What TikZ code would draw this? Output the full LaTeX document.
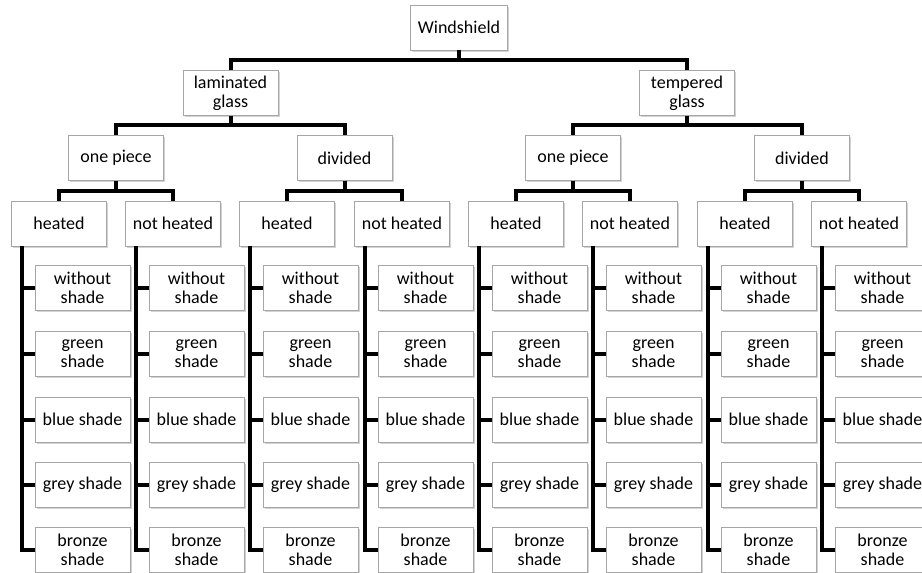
\documentclass[tikz,border=0pt]{standalone}
\usepackage{fontspec}
\setmainfont{Carlito}
\usetikzlibrary{shadows}
\tikzset{
  box/.style={draw=black!35,fill=white,minimum width=95pt,minimum height=45pt,
    inner sep=1pt,align=center,font=\fontsize{18}{19}\selectfont,
    drop shadow={shadow xshift=1.5pt,shadow yshift=-1.5pt,opacity=.35}},
  conn/.style={line width=4pt,black}
}
\begin{document}
\begin{tikzpicture}[x=1pt,y=-1pt]
  \useasboundingbox (0,0) rectangle (922,573);
  \clip (0,0) rectangle (922,573);
  % top levels
  \node[box,minimum width=97pt] (ws) at (459,27.5) {Windshield};
  \node[box] (lam) at (230.5,93) {laminated\\glass};
  \node[box] (tem) at (687,93) {tempered\\glass};
  \node[box] (lop) at (116,158) {one piece};
  \node[box] (ldv) at (344.5,158) {divided};
  \node[box] (top) at (573,158) {one piece};
  \node[box] (tdv) at (802,158) {divided};
  \node[box] (loh) at (59,223.5) {heated};
  \node[box] (lon) at (173,223.5) {not heated};
  \node[box] (ldh) at (287,223.5) {heated};
  \node[box] (ldn) at (402,223.5) {not heated};
  \node[box] (toh) at (516,223.5) {heated};
  \node[box] (ton) at (630,223.5) {not heated};
  \node[box] (tdh) at (745,223.5) {heated};
  \node[box] (tdn) at (859,223.5) {not heated};
  \draw[conn] (ws.south) -- ++(0,10) -| (lam.north);
  \draw[conn] (ws.south) -- ++(0,10) -| (tem.north);
  \draw[conn] (lam.south) -- ++(0,9) -| (lop.north);
  \draw[conn] (lam.south) -- ++(0,9) -| (ldv.north);
  \draw[conn] (tem.south) -- ++(0,9) -| (top.north);
  \draw[conn] (tem.south) -- ++(0,9) -| (tdv.north);
  \draw[conn] (lop.south) -- ++(0,10) -| (loh.north);
  \draw[conn] (lop.south) -- ++(0,10) -| (lon.north);
  \draw[conn] (ldv.south) -- ++(0,10) -| (ldh.north);
  \draw[conn] (ldv.south) -- ++(0,10) -| (ldn.north);
  \draw[conn] (top.south) -- ++(0,10) -| (toh.north);
  \draw[conn] (top.south) -- ++(0,10) -| (ton.north);
  \draw[conn] (tdv.south) -- ++(0,10) -| (tdh.north);
  \draw[conn] (tdv.south) -- ++(0,10) -| (tdn.north);
  % shade leaves
  \foreach \p/\x in {loh/59,lon/173,ldh/287,ldn/402,toh/516,ton/630,tdh/745,tdn/859}{
    \coordinate (\p-s) at (\x-37,246);
    \foreach \t/\y [count=\i] in {without\\shade/288,green\\shade/353.5,
        blue shade/419.5,grey shade/484.5,bronze\\shade/550}{
      \node[box] (\p-\i) at (\x+23.5,\y) {\t};
      \draw[conn] (\p-s) |- (\p-\i.west);
    }
  }
\end{tikzpicture}
\end{document}
